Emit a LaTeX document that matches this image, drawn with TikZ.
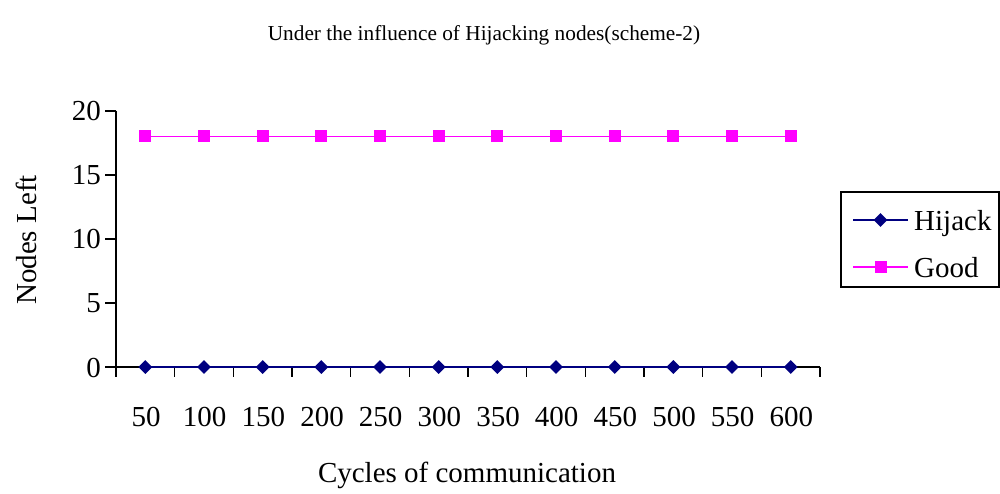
\documentclass[tikz,border=0pt]{standalone}
\usepackage{fontspec}
\setmainfont{Liberation Serif}
\usetikzlibrary{shapes.geometric}
\definecolor{hij}{RGB}{0,0,128}
\definecolor{gd}{RGB}{255,0,255}
\begin{document}
\begin{tikzpicture}[x=1pt,y=-1pt,
  axis/.style={line width=1.6pt,black},
  hline/.style={line width=1.8pt,hij},
  gline/.style={line width=1.8pt,gd},
  hmark/.style={diamond,fill=hij,inner sep=0pt,minimum width=14pt,minimum height=14pt},
  gmark/.style={rectangle,fill=gd,inner sep=0pt,minimum size=12pt},
  lbl/.style={font=\fontsize{29}{32}\selectfont,inner sep=0pt},
  ttl/.style={font=\fontsize{21.3}{24}\selectfont,inner sep=0pt}]
\useasboundingbox (0,0) rectangle (1000,493);
% title
\node[ttl] (title) at (484,35) {Under the influence of Hijacking nodes(scheme-2)};
% axes
\coordinate (o) at (116,367);
\coordinate (ytop) at (116,110.7);
\coordinate (xend) at (820,367);
\draw[axis] (ytop) -- (116,377);
\draw[axis] (o) -- (xend);
\foreach \v/\yy in {0/367,5/302.9,10/238.9,15/174.8,20/110.7}{
  \draw[axis] (105,\yy) -- (116,\yy);
  \node[lbl,anchor=base east] (yl\v) at (101,\yy+10) {\v};
}
\foreach \k in {1,...,12}{
  \draw[axis] (116+58.667*\k,367) -- (116+58.667*\k,377);
}
\foreach \k [evaluate=\k as \lab using int(50*\k)] in {1,...,12}{
  \node[lbl,anchor=base] (xl\k) at (146+58.667*\k-58.667,426.5) {\lab};
}
\node[lbl,rotate=90] (ylab) at (26,240) {Nodes Left};
\node[lbl,anchor=base] (xlab) at (467,482) {Cycles of communication};
% series
\foreach \k in {1,...,12}{
  \coordinate (h\k) at (145.33+58.667*\k-58.667,367);
  \coordinate (g\k) at (145.33+58.667*\k-58.667,136.4);
}
\draw[gline] (g1) -- (g2) -- (g3) -- (g4) -- (g5) -- (g6) -- (g7) -- (g8) -- (g9) -- (g10) -- (g11) -- (g12);
\draw[hline] (h1) -- (h2) -- (h3) -- (h4) -- (h5) -- (h6) -- (h7) -- (h8) -- (h9) -- (h10) -- (h11) -- (h12);
\foreach \k in {1,...,12}{
  \node[gmark] (gm\k) at (g\k) {};
  \node[hmark] (hm\k) at (h\k) {};
}
% legend
\draw[line width=1.6pt] (841,192) rectangle (999.2,287);
\coordinate (la1) at (853,220);
\coordinate (lb1) at (908,220);
\coordinate (la2) at (853,267);
\coordinate (lb2) at (908,267);
\draw[hline] (la1) -- (lb1);
\node[hmark] (lh) at (880.5,220) {};
\draw[gline] (la2) -- (lb2);
\node[gmark] (lg) at (880.5,267) {};
\node[lbl,anchor=base west] (lt1) at (914,230) {Hijack};
\node[lbl,anchor=base west] (lt2) at (914,277) {Good};
\end{tikzpicture}
\end{document}
